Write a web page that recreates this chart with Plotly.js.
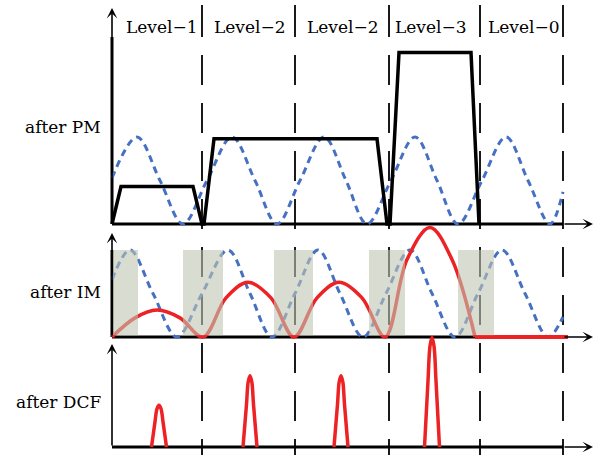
<!DOCTYPE html>
<html>
<head>
<meta charset="utf-8">
<script src="https://cdn.plot.ly/plotly-3.0.1.min.js"></script>
<style>html,body{margin:0;padding:0;background:#fff;}#chart{width:609px;height:455px;}</style>
</head>
<body>
<div id="chart"></div>
<script>
// ---------- data (x: time offset from the origin, y: amplitude, sine peak = 1) ----------
const levelLabels = ["Level\u22121", "Level\u22122", "Level\u22122", "Level\u22123", "Level\u22120"];
const levelLabelX = [49.5, 137.5, 230.5, 319, 411.5];
const panelLabels = ["after PM", "after IM", "after DCF"];

// after PM: multilevel pulse and dashed clock sine
const pmPulseX = [0, 9, 81, 90, 92, 102, 265, 275, 278, 287, 359, 367];
const pmPulseY = [0, 0.43, 0.43, 0, 0, 0.98, 0.98, 0, 0, 1.97, 1.97, 0];
const pmSineX = [0, 25, 48, 71, 95, 120, 143, 165, 188, 212, 234, 255, 279, 303, 325, 346, 370, 394, 416, 438, 451];
const pmSineY = [0.53, 1, 0.5, 0, 0.5, 1, 0.5, 0, 0.5, 1, 0.5, 0, 0.5, 1, 0.5, 0, 0.5, 1, 0.5, 0, 0.37];

// after IM
const imSineX = [0, 18, 41, 65, 90, 116, 138, 160, 183, 206, 228, 251, 274, 298, 320, 343, 366, 390, 413, 436, 451];
const imSineY = [0.66, 1, 0.5, 0, 0.5, 1, 0.5, 0, 0.5, 1, 0.5, 0, 0.5, 1, 0.5, 0, 0.5, 1, 0.5, 0, 0.23];
const imRedX = [0, 23, 45, 68, 91, 114, 136, 159, 182, 205, 227, 250, 273, 295, 318, 340, 363];
const imRedY = [0, 0.22, 0.31, 0.22, 0, 0.45, 0.63, 0.45, 0, 0.45, 0.63, 0.45, 0, 0.89, 1.26, 0.89, 0];
const imFlatX = [363, 456];
const imFlatY = [0, 0];
const gateStart = [1, 71, 162, 257, 346];
const gateEnd = [26, 111, 201, 293, 382];
const gateTop = 1.0;

// after DCF: compressed pulses
const dcfX = [39.5, 43, 45, 47, 49, 51, 54.5, null,
              131, 134.5, 136.2, 138, 139.8, 141.5, 145, null,
              222, 225.5, 227.2, 229, 230.8, 232.5, 236, null,
              312.5, 316, 318, 320, 322, 324, 327.5];
const dcfY = [0, 0.29, 0.44, 0.48, 0.44, 0.29, 0, null,
              0, 0.49, 0.75, 0.82, 0.75, 0.49, 0, null,
              0, 0.49, 0.75, 0.82, 0.75, 0.49, 0, null,
              0, 0.76, 1.16, 1.26, 1.16, 0.76, 0];

// symbol boundaries
const boundaryX = [90, 183, 277, 368, 451];

// ---------- layout geometry ----------
const W = 609, H = 455, ORIGIN = 112, UNIT = 87;
const baselines = [224, 337, 447];      // pixel rows of the three time axes
const tips = [8, 233, 344];             // pixel rows of the vertical arrow tips
const axisEnd = 593, thickEnd = 563;
const thickTop = [37, 250, null];
const labelRows = [127, 292, 402];

const px = v => v / W;
const py = v => 1 - v / H;
const yr = b => [-(H - b) / UNIT, b / UNIT];

const BLUE = "rgb(70,112,194)";
const RED = "rgb(236,34,36)";
const FONT = "DejaVu Serif";

const traces = [
  {x: pmSineX, y: pmSineY, yaxis: "y", mode: "lines", line: {color: BLUE, width: 3, dash: "7px,5px", shape: "spline"}},
  {x: pmPulseX, y: pmPulseY, yaxis: "y", mode: "lines", line: {color: "#000", width: 3.5}},
  {x: imSineX, y: imSineY, yaxis: "y2", mode: "lines", line: {color: BLUE, width: 3, dash: "7px,5px", shape: "spline"}},
  {x: imRedX, y: imRedY, yaxis: "y2", mode: "lines", line: {color: RED, width: 3.5, shape: "spline"}},
  {x: imFlatX, y: imFlatY, yaxis: "y2", mode: "lines", line: {color: RED, width: 4}},
  {x: dcfX, y: dcfY, yaxis: "y3", mode: "lines", connectgaps: false, line: {color: RED, width: 3.5, shape: "spline"}}
];

const shapes = [];
boundaryX.forEach(b => {
  shapes.push({type: "line", layer: "below", xref: "x", yref: "paper", x0: b, x1: b, y0: py(55), y1: py(H),
    line: {color: "#1a1a1a", width: 2, dash: "30px,18px"}});
  shapes.push({type: "line", layer: "below", xref: "x", yref: "paper", x0: b, x1: b, y0: py(5), y1: py(37),
    line: {color: "#1a1a1a", width: 2}});
});
baselines.forEach((b, i) => {
  shapes.push({type: "line", layer: "below", xref: "paper", yref: "paper", x0: px(ORIGIN), x1: px(thickEnd), y0: py(b), y1: py(b),
    line: {color: "#000", width: 3}});
  if (thickTop[i] !== null) {
    shapes.push({type: "line", layer: "below", xref: "paper", yref: "paper", x0: px(ORIGIN), x1: px(ORIGIN), y0: py(b), y1: py(thickTop[i]),
      line: {color: "#000", width: 3}});
  }
});
gateStart.forEach((g, i) => {
  shapes.push({type: "rect", layer: "above", xref: "x", yref: "y2", x0: g, x1: gateEnd[i], y0: 0.02, y1: gateTop,
    fillcolor: "rgb(192,197,176)", opacity: 0.6, line: {width: 0}});
});

const annotations = [];
baselines.forEach((b, i) => {
  annotations.push({xref: "paper", yref: "paper", x: px(ORIGIN), y: py(tips[i]), ax: 0, ay: b - tips[i],
    text: "", showarrow: true, arrowhead: 3, arrowsize: 1.1, arrowwidth: 1.6, arrowcolor: "#000", standoff: 0});
  annotations.push({xref: "paper", yref: "paper", x: px(axisEnd), y: py(b), ax: -(axisEnd - thickEnd), ay: 0,
    text: "", showarrow: true, arrowhead: 3, arrowsize: 1.1, arrowwidth: 1.6, arrowcolor: "#000", standoff: 0});
  annotations.push({xref: "paper", yref: "paper", x: px(103), y: py(labelRows[i]), xanchor: "right", yanchor: "middle",
    text: panelLabels[i], showarrow: false, font: {family: FONT, size: 17, color: "#000"}});
});
levelLabels.forEach((t, i) => {
  annotations.push({xref: "x", yref: "paper", x: levelLabelX[i], y: py(27), xanchor: "center", yanchor: "middle",
    text: t, showarrow: false, font: {family: FONT, size: 17, color: "#000"}});
});

const hidden = {visible: false, showgrid: false, zeroline: false, fixedrange: true};
const layout = {
  width: W, height: H, autosize: false,
  margin: {l: 0, r: 0, t: 0, b: 0, pad: 0},
  paper_bgcolor: "#fff", plot_bgcolor: "rgba(0,0,0,0)",
  showlegend: false,
  xaxis: Object.assign({range: [-ORIGIN, W - ORIGIN], domain: [0, 1]}, hidden),
  yaxis: Object.assign({range: yr(baselines[0]), domain: [0, 1]}, hidden),
  yaxis2: Object.assign({range: yr(baselines[1]), overlaying: "y"}, hidden),
  yaxis3: Object.assign({range: yr(baselines[2]), overlaying: "y"}, hidden),
  shapes: shapes,
  annotations: annotations
};

Plotly.newPlot("chart", traces, layout, {displayModeBar: false, staticPlot: true});
</script>
</body>
</html>
